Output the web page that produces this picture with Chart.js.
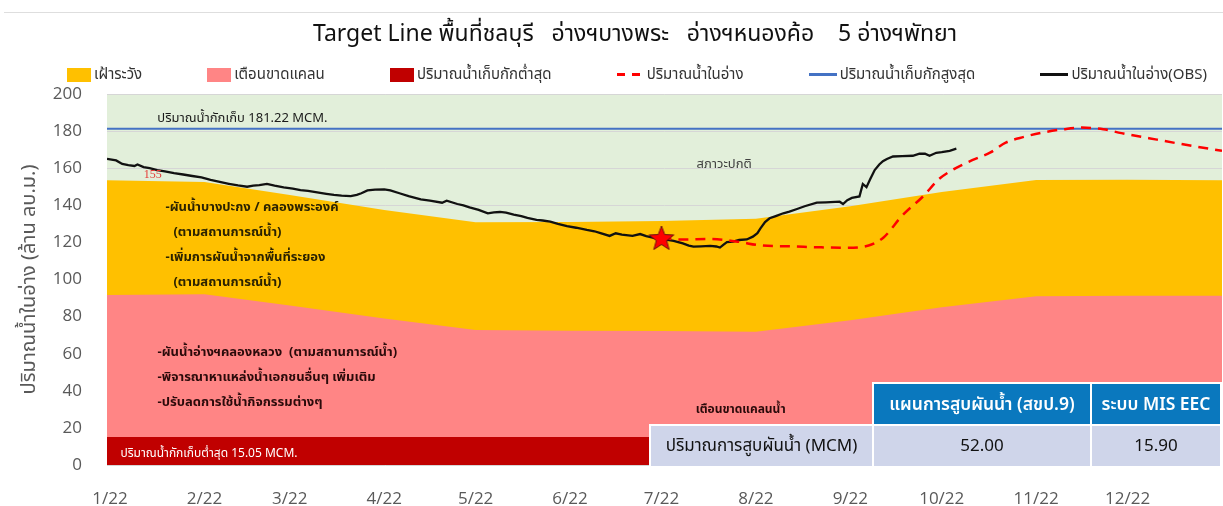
<!DOCTYPE html>
<html lang="th">
<head>
<meta charset="utf-8">
<title>Target Line ชลบุรี</title>
<script src="https://cdn.jsdelivr.net/npm/chart.js@4.4.1/dist/chart.umd.min.js"></script>
<style>
  html, body { margin: 0; padding: 0; background: #fff; }
  body { font-family: Tahoma, "Noto Sans Thai", "Noto Sans", sans-serif; }
  #wrap { position: relative; width: 1223px; height: 506px; overflow: hidden; }
  #wrap::before { content: ''; position: absolute; left: 4px; right: 0; top: 12px; border-top: 1px solid #dedede; }
  #chart-title { position: absolute; left: 0; width: 1270px; top: 17px; text-align: center;
    font-size: 23px; font-weight: normal; color: #111; white-space: pre; }
  #legend { position: absolute; left: 67px; width: 1140px; top: 63px; display: flex;
    justify-content: space-between; align-items: center; font-size: 15px; color: #333; }
  #legend .item { display: flex; align-items: center; white-space: nowrap; }
  #legend .swatch { margin-right: 3px; }
  canvas { position: absolute; left: 0; top: 0; }
  #pump-table { position: absolute; left: 649px; top: 382px; border-collapse: collapse;
    font-size: 17px; color: #111; }
  #pump-table td { border: 2px solid #fff; height: 40px; text-align: center; padding: 0; background: #cfd5ea; }
  #pump-table td.head { background: #0a78be; color: #fff; font-weight: 600; font-size: 17.5px; }
  #pump-table td.blank { background: transparent; border-top-style: hidden; border-left-style: hidden; }
</style>
</head>
<body>
<div id="wrap">
  <canvas id="targetChart" width="1223" height="506"></canvas>
  <div id="chart-title">Target Line พื้นที่ชลบุรี   อ่างฯบางพระ   อ่างฯหนองค้อ    5 อ่างฯพัทยา</div>
  <div id="legend"></div>
  <table id="pump-table"></table>
</div>
<script>
// month ticks (day of year 2022)
const monthDays = [0, 31, 59, 90, 120, 151, 181, 212, 243, 273, 304, 334];
const monthLabels = ['1/22', '2/22', '3/22', '4/22', '5/22', '6/22', '7/22', '8/22', '9/22', '10/22', '11/22', '12/22'];

// rule curves (ล้าน ลบ.ม.)
const ruleDays = [-1, 31, 59, 90, 120, 151, 181, 212, 243, 273, 304, 334, 365];
const watchLevel = [153.5, 152.5, 145.5, 137.5, 130.8, 131.0, 131.5, 132.8, 139.5, 147.2, 153.7, 153.8, 153.5];
const shortageLevel = [91.6, 92.0, 86.0, 79.0, 72.8, 72.4, 72.2, 71.9, 78.0, 85.0, 91.0, 91.2, 91.2];
const minStorage = 15.05;
const maxStorage = 181.22;

// forecast storage from 1 Jul
const planDays = [181, 188, 197, 206, 214, 223, 232, 241, 249, 254, 260, 267, 272, 277, 283, 289, 294, 300, 306, 313, 319, 326, 332, 341, 350, 357, 365];
const planValues = [122.4, 121.5, 121.9, 120.4, 118.3, 117.9, 117.4, 117.1, 118.3, 122.8, 134.4, 145.0, 154.0, 159.5, 164.3, 168.5, 173.8, 176.9, 179.2, 181.0, 181.9, 181.0, 178.9, 176.2, 173.5, 171.5, 169.4];

// observed storage
const obsDays = [-1, 2, 4, 6, 8, 9, 11, 13, 15.5, 18, 21, 24, 27, 30, 33, 36, 39, 42, 45, 47, 49, 51.5, 54, 57, 60, 62.5, 65, 68, 71, 73.5, 76, 79, 81, 82.5, 84.5, 87, 90, 92, 95, 98, 102, 105, 109, 110.5, 114, 116, 118, 121, 124, 126, 128, 130, 132.5, 135, 137, 140, 142, 144.5, 147, 150, 153, 156.5, 159, 161, 164, 166, 168, 171.5, 174, 176, 178.5, 181, 183, 185, 188, 190, 191.5, 194, 197, 199, 200.2, 201.5, 202.5, 204.5, 206.5, 209, 211, 212.5, 213.5, 215, 216.5, 218.5, 221, 223, 225.5, 228, 232, 235, 238, 239.5, 240.6, 242, 243.5, 246, 247.1, 248.3, 249.5, 251, 252.5, 253.7, 255, 257, 260, 263.5, 265.7, 267.5, 269, 271.2, 273, 275.6, 277.8];
const obsValues = [165.0, 164.2, 162.3, 161.6, 161.2, 162.0, 160.6, 160.0, 159.0, 158.3, 157.3, 156.6, 155.8, 155.0, 153.7, 152.6, 151.6, 150.7, 150.0, 150.6, 150.9, 151.5, 150.6, 149.7, 149.0, 148.2, 147.8, 147.0, 146.2, 145.6, 145.2, 145.0, 145.6, 146.5, 148.0, 148.5, 148.6, 148.0, 146.5, 145.0, 143.2, 142.5, 141.4, 142.5, 140.7, 140.0, 138.9, 137.5, 135.7, 136.2, 136.4, 136.0, 135.0, 134.2, 133.2, 132.1, 131.8, 131.2, 130.0, 128.8, 127.9, 126.7, 126.0, 125.0, 123.5, 124.9, 124.2, 123.5, 124.5, 123.4, 122.5, 122.0, 121.3, 120.8, 119.5, 118.3, 117.7, 117.9, 118.1, 117.8, 117.2, 118.9, 120.2, 120.4, 121.3, 121.6, 123.1, 125.0, 127.6, 131.0, 133.0, 134.2, 135.7, 136.6, 138.0, 139.5, 141.4, 141.6, 141.8, 141.9, 140.7, 142.8, 144.0, 144.8, 151.5, 149.8, 154.0, 159.0, 162.0, 163.8, 165.0, 166.3, 166.5, 166.7, 167.9, 167.8, 166.7, 168.3, 168.7, 169.4, 170.5];

// pumping table
const pumpSources = ['แผนการสูบผันน้ำ (สขป.9)', 'ระบบ MIS EEC'];
const pumpVolumes = [52.00, 15.90];

const toPoints = (xs, ys) => xs.map((x, i) => ({ x, y: ys[i] }));
const flat = (xs, v) => xs.map(x => ({ x, y: v }));

// filled red star used for the 1 Jul marker
function makeStar(r) {
  const size = r * 2 + 4;
  const c = document.createElement('canvas');
  c.width = c.height = size;
  const g = c.getContext('2d');
  g.beginPath();
  for (let i = 0; i < 10; i++) {
    const rad = i % 2 ? r * 0.42 : r;
    const a = -Math.PI / 2 + i * Math.PI / 5;
    g.lineTo(size / 2 + rad * Math.cos(a), size / 2 + rad * Math.sin(a) + 1);
  }
  g.closePath();
  g.fillStyle = '#ff0000';
  g.fill();
  g.strokeStyle = '#6b1010';
  g.lineWidth = 1;
  g.stroke();
  return c;
}
const starMark = makeStar(13);

const thaiFont = 'Tahoma, "Noto Sans Thai", "Noto Sans", sans-serif';

// text placed inside the zones, in data coordinates
const notes = [
  { day: 15.5, value: 186.5, text: 'ปริมาณน้ำกักเก็บ 181.22 MCM.', color: '#1a1a1a', font: '13px ' + thaiFont },
  { day: 14, value: 156.5, text: '155', color: '#e53935', font: '12px "Liberation Serif", serif', align: 'center' },
  { day: 192.5, value: 161.5, text: 'สภาวะปกติ', color: '#404040', font: '13px ' + thaiFont },
  { day: 18.2, value: 138.5, text: '-ผันน้ำบางปะกง / คลองพระองค์', color: '#2b2200', font: 'bold 13px ' + thaiFont },
  { day: 20.8, value: 125.0, text: '(ตามสถานการณ์น้ำ)', color: '#2b2200', font: 'bold 13px ' + thaiFont },
  { day: 18.2, value: 111.6, text: '-เพิ่มการผันน้ำจากพื้นที่ระยอง', color: '#2b2200', font: 'bold 13px ' + thaiFont },
  { day: 20.8, value: 98.1, text: '(ตามสถานการณ์น้ำ)', color: '#2b2200', font: 'bold 13px ' + thaiFont },
  { day: 15.6, value: 60.2, text: '-ผันน้ำอ่างฯคลองหลวง  (ตามสถานการณ์น้ำ)', color: '#2a0a0a', font: 'bold 13px ' + thaiFont },
  { day: 15.6, value: 46.7, text: '-พิจารณาหาแหล่งน้ำเอกชนอื่นๆ เพิ่มเติม', color: '#2a0a0a', font: 'bold 13px ' + thaiFont },
  { day: 15.6, value: 33.3, text: '-ปรับลดการใช้น้ำกิจกรรมต่างๆ', color: '#2a0a0a', font: 'bold 13px ' + thaiFont },
  { day: 3.4, value: 5.8, text: 'ปริมาณน้ำกักเก็บต่ำสุด 15.05 MCM.', color: '#ffffff', font: '12px ' + thaiFont },
  { day: 207, value: 29.6, text: 'เตือนขาดแคลนน้ำ', color: '#2a0a0a', font: 'bold 12px ' + thaiFont, align: 'center' }
];

const normalZone = {
  id: 'normalZone',
  beforeDraw(chart) {
    const { ctx, chartArea: a } = chart;
    ctx.save();
    ctx.fillStyle = '#e2efda';
    ctx.fillRect(a.left, a.top, a.right - a.left, a.bottom - a.top);
    ctx.restore();
  }
};

const zoneNotes = {
  id: 'zoneNotes',
  afterDatasetsDraw(chart) {
    const { ctx, scales: { x, y } } = chart;
    ctx.save();
    ctx.textBaseline = 'middle';
    notes.forEach(n => {
      ctx.font = n.font;
      ctx.fillStyle = n.color;
      ctx.textAlign = n.align || 'left';
      ctx.fillText(n.text, x.getPixelForValue(n.day), y.getPixelForValue(n.value));
    });
    ctx.restore();
  }
};

const datasets = [
  {
    label: 'ปริมาณน้ำในอ่าง',
    data: toPoints(planDays, planValues),
    borderColor: '#ff0000',
    backgroundColor: '#ff0000',
    borderWidth: 2.5,
    borderDash: [10, 7],
    cubicInterpolationMode: 'monotone',
    pointStyle: ctx => ctx.dataIndex === 0 ? starMark : 'circle',
    pointRadius: ctx => ctx.dataIndex === 0 ? 12 : 0,
    fill: false
  },
  {
    label: 'ปริมาณน้ำในอ่าง(OBS)',
    data: toPoints(obsDays, obsValues),
    borderColor: '#111111',
    borderWidth: 2.3,
    pointRadius: 0,
    tension: 0,
    fill: false
  },
  {
    label: 'ปริมาณน้ำเก็บกักสูงสุด',
    data: flat([-1, 365], maxStorage),
    borderColor: '#4472c4',
    borderWidth: 2,
    pointRadius: 0,
    fill: false
  },
  {
    label: 'ปริมาณน้ำเก็บกักต่ำสุด',
    data: flat([-1, 365], minStorage),
    backgroundColor: '#c00000',
    borderWidth: 0,
    pointRadius: 0,
    fill: 'origin'
  },
  {
    label: 'เตือนขาดแคลน',
    data: toPoints(ruleDays, shortageLevel),
    backgroundColor: '#ff8585',
    borderWidth: 0,
    pointRadius: 0,
    fill: 'origin'
  },
  {
    label: 'เฝ้าระวัง',
    data: toPoints(ruleDays, watchLevel),
    backgroundColor: '#ffc000',
    borderWidth: 0,
    pointRadius: 0,
    fill: 'origin'
  }
];

const chart = new Chart(document.getElementById('targetChart'), {
  type: 'line',
  data: { datasets },
  plugins: [normalZone, zoneNotes],
  options: {
    responsive: false,
    animation: false,
    events: [],
    // the star marker would otherwise push the plot in from the right
    layout: { autoPadding: false, padding: { top: 94, right: 1, bottom: 0, left: 0 } },
    plugins: { legend: { display: false }, tooltip: { enabled: false }, title: { display: false } },
    scales: {
      x: {
        type: 'linear',
        min: -1,
        max: 365,
        afterBuildTicks: scale => { scale.ticks = monthDays.map(value => ({ value })); },
        afterFit: scale => {
          scale.height = 41;
          scale.paddingLeft = 0;
          scale.paddingRight = 0;
        },
        grid: { display: false, drawTicks: false },
        border: { display: false },
        ticks: {
          autoSkip: false,
          maxRotation: 0,
          padding: 24,
          color: '#595959',
          font: { family: '"Open Sans", sans-serif', size: 17 },
          callback: (value, index) => monthLabels[index]
        }
      },
      y: {
        min: 0,
        max: 200,
        afterFit: scale => { scale.width = 107; },
        grid: { color: '#d6d6d6', drawTicks: false },
        border: { display: false },
        ticks: {
          stepSize: 20,
          padding: 25,
          color: '#595959',
          font: { family: '"Open Sans", sans-serif', size: 17 }
        },
        title: {
          display: true,
          text: 'ปริมาณน้ำในอ่าง (ล้าน ลบ.ม.)',
          color: '#595959',
          font: { family: thaiFont, size: 20 },
          padding: { top: 19, bottom: 0 }
        }
      }
    }
  }
});

// legend, same order as the printed report
const legendOrder = ['เฝ้าระวัง', 'เตือนขาดแคลน', 'ปริมาณน้ำเก็บกักต่ำสุด', 'ปริมาณน้ำในอ่าง', 'ปริมาณน้ำเก็บกักสูงสุด', 'ปริมาณน้ำในอ่าง(OBS)'];
const legendEl = document.getElementById('legend');
legendOrder.forEach(name => {
  const ds = chart.data.datasets.find(d => d.label === name);
  const item = document.createElement('div');
  item.className = 'item';
  const sw = document.createElement('span');
  sw.className = 'swatch';
  if (ds.fill) {
    sw.style.cssText = `display:inline-block;width:24px;height:14px;background:${ds.backgroundColor}`;
  } else if (ds.borderDash) {
    sw.style.cssText = `display:inline-block;width:27px;height:3px;background:repeating-linear-gradient(to right, ${ds.borderColor} 0 8px, transparent 8px 15px)`;
  } else {
    sw.style.cssText = `display:inline-block;width:28px;height:${Math.round(ds.borderWidth + 0.5)}px;background:${ds.borderColor}`;
  }
  const txt = document.createElement('span');
  txt.textContent = name;
  item.append(sw, txt);
  legendEl.appendChild(item);
});

// pumping volume table
const table = document.getElementById('pump-table');
const headRow = table.insertRow();
const blank = headRow.insertCell();
blank.className = 'blank';
blank.style.width = '222px';
pumpSources.forEach((s, i) => {
  const c = headRow.insertCell();
  c.className = 'head';
  c.textContent = s;
  c.style.width = i === 0 ? '216px' : '128px';
});
const valRow = table.insertRow();
valRow.insertCell().textContent = 'ปริมาณการสูบผันน้ำ (MCM)';
pumpVolumes.forEach(v => { valRow.insertCell().textContent = v.toFixed(2); });
</script>
</body>
</html>
